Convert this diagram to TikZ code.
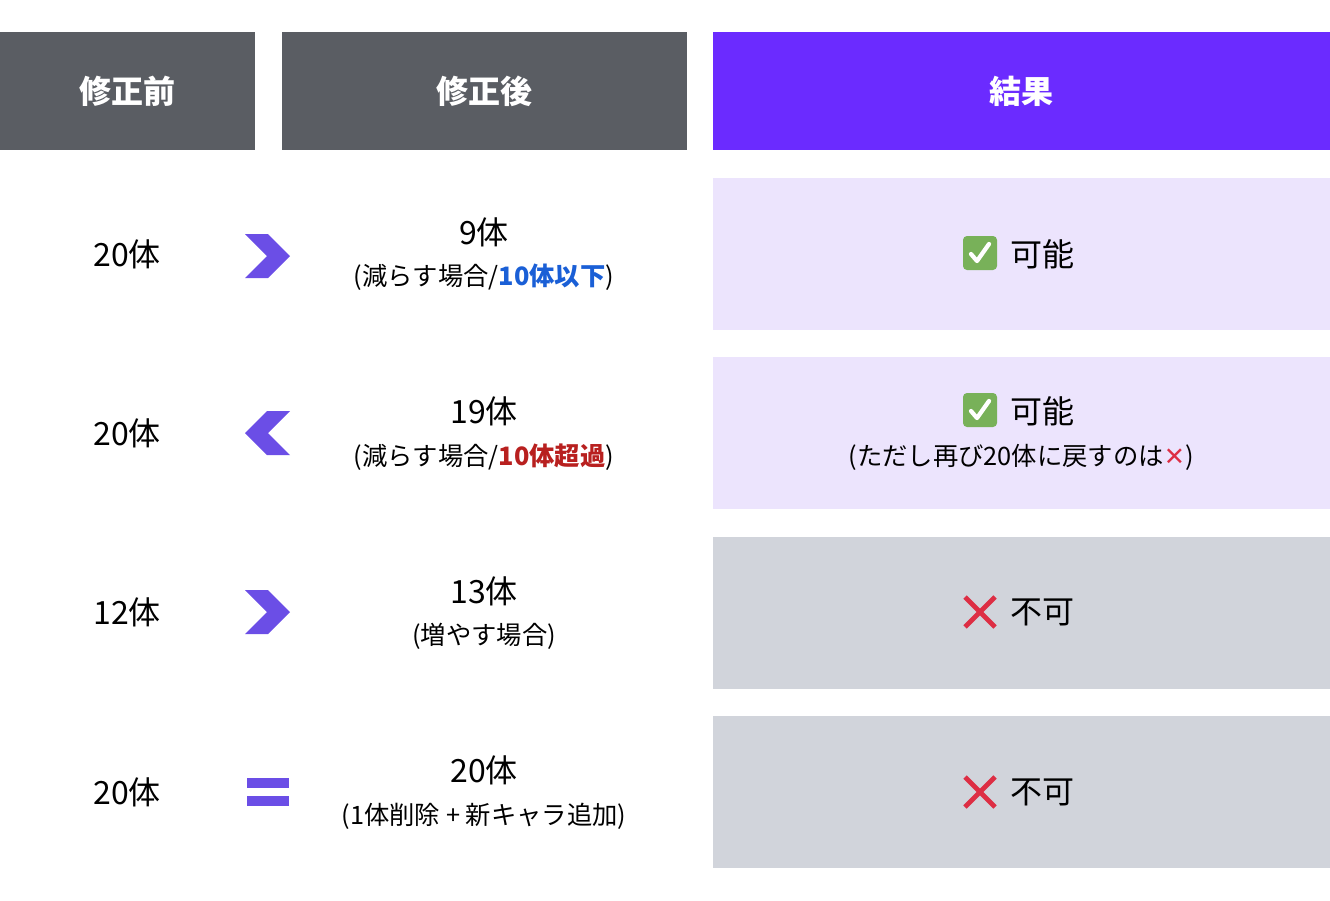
\documentclass[tikz,border=0pt]{standalone}
\usepackage{fontspec}
\setmainfont{Noto Sans CJK JP}
\newfontfamily\symfont{DejaVu Sans}
\usetikzlibrary{positioning}
\definecolor{headGray}{HTML}{5A5D63}
\definecolor{headPurple}{HTML}{6B2BFF}
\definecolor{okBox}{HTML}{ECE4FD}
\definecolor{ngBox}{HTML}{D1D4DB}
\definecolor{arrowPurple}{HTML}{6B4EE6}
\definecolor{checkGreen}{HTML}{78B159}
\definecolor{crossRed}{HTML}{DD2E44}
\definecolor{textBlue}{HTML}{1A5FD6}
\definecolor{textRed}{HTML}{B8201F}
\tikzset{
  head/.style={fill=#1, draw=none},
  headtext/.style={text=white, font=\fontsize{24}{28}\selectfont\bfseries},
  maintext/.style={font=\fontsize{24}{28}\selectfont},
  subtext/.style={font=\fontsize{19}{22}\selectfont},
  chev/.style={fill=arrowPurple, draw=none},
}
\newcommand{\okmark}[1]{%
  \fill[checkGreen, rounded corners=3pt] ($(#1)+(-17,-17)$) rectangle ($(#1)+(17,17)$);
  \draw[white, line width=3.2pt, line cap=round, line join=round] ($(#1)+(-9,1)$) -- ($(#1)+(-3,8)$) -- ($(#1)+(9,-9)$);}
\newcommand{\ngmark}[1]{%
  \draw[crossRed, line width=3.6pt] ($(#1)+(-15,-15)$) -- ($(#1)+(15,15)$) ($(#1)+(-15,15)$) -- ($(#1)+(15,-15)$);}
\usetikzlibrary{calc}
\begin{document}
\begin{tikzpicture}[x=0.75pt, y=-0.75pt]
\useasboundingbox (0,0) rectangle (1330,900);

%%%%%%%%%%%%%%%%%%%%%%%%%%%%%% Header
\fill[head=headGray] (0,32) rectangle (255,150);
\fill[head=headGray] (282,32) rectangle (687,150);
\fill[head=headPurple] (713,32) rectangle (1330,150);
\node[headtext] (hBefore) at (127,91) {修正前};
\node[headtext] (hAfter) at (484,91) {修正後};
\node[headtext] (hResult) at (1021,91) {結果};

%%%%%%%%%%%%%%%%%%%%%%%%%%%%%% Result boxes
\fill[okBox] (713,178) rectangle (1330,330);
\fill[okBox] (713,357) rectangle (1330,509);
\fill[ngBox] (713,537) rectangle (1330,689);
\fill[ngBox] (713,716) rectangle (1330,868);

%%%%%%%%%%%%%%%%%%%%%%%%%%%%%% Row 1
\node[maintext] (b1) at (127,254) {20体};
\fill[chev] (245,234) -- (268,234) -- (290,256) -- (268,278) -- (245,278) -- (267,256) -- cycle;
\node[maintext] (a1) at (484,232) {9体};
\node[subtext] (a1s) at (484,277) {(減らす場合/\textcolor{textBlue}{\bfseries 10体以下})};
\coordinate (ok1) at (980,253);
\okmark{ok1}
\node[maintext, anchor=west] (r1) at (1006,254) {可能};

%%%%%%%%%%%%%%%%%%%%%%%%%%%%%% Row 2
\node[maintext] (b2) at (127,433) {20体};
\fill[chev] (290,411) -- (267,411) -- (245,433) -- (267,455) -- (290,455) -- (268,433) -- cycle;
\node[maintext] (a2) at (484,411) {19体};
\node[subtext] (a2s) at (484,457) {(減らす場合/\textcolor{textRed}{\bfseries 10体超過})};
\coordinate (ok2) at (980,410);
\okmark{ok2}
\node[maintext, anchor=west] (r2) at (1006,411) {可能};
\node[subtext] (r2s) at (1021,457) {(ただし再び20体に戻すのは{\symfont\textcolor{crossRed}{\bfseries ✕}})};

%%%%%%%%%%%%%%%%%%%%%%%%%%%%%% Row 3
\node[maintext] (b3) at (127,612) {12体};
\fill[chev] (245,590) -- (268,590) -- (290,612) -- (268,634) -- (245,634) -- (267,612) -- cycle;
\node[maintext] (a3) at (484,591) {13体};
\node[subtext] (a3s) at (484,636) {(増やす場合)};
\coordinate (ng3) at (980,612);
\ngmark{ng3}
\node[maintext, anchor=west] (r3) at (1006,612) {不可};

%%%%%%%%%%%%%%%%%%%%%%%%%%%%%% Row 4
\node[maintext] (b4) at (127,792) {20体};
\fill[chev] (247,778) rectangle (289,788);
\fill[chev] (247,796) rectangle (289,806);
\node[maintext] (a4) at (484,770) {20体};
\node[subtext] (a4s) at (484,816) {(1体削除 + 新キャラ追加)};
\coordinate (ng4) at (980,792);
\ngmark{ng4}
\node[maintext, anchor=west] (r4) at (1006,792) {不可};

\end{tikzpicture}
\end{document}
